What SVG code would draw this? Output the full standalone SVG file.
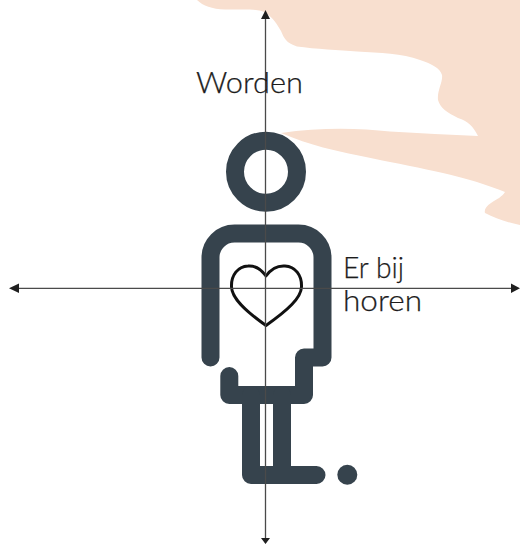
<svg xmlns="http://www.w3.org/2000/svg" width="520" height="544" viewBox="0 0 520 544">
<defs>
<style>
.fig{fill:none;stroke:#36434d;stroke-width:18;stroke-linecap:round;stroke-linejoin:round}
.ax{stroke:#4a4a4a;stroke-width:1.3;fill:none}
.head{fill:#1f1f1f}
text{font-family:"Lato","Liberation Sans",sans-serif;font-weight:300;font-size:30px;fill:#1c1c1c;stroke:#1c1c1c;stroke-width:.25}
</style>
</defs>
<path id="blob" fill="#f8dfcf" d="M197 0C203 6 212 9 225 9.500C240 10 258 8 266 13C273 18 277 24 281 31C284 38 286 43 297 46.500C315 49 340 50 357 51.500C380 53 402 53 420 60C432 64 440 68 442 75C443 82 437 90 438 100C440 108 448 113 458 118C468 121 473 126 478 136C450 135 420 133 390 131.500C360 128 320 127 281 133C295 139 310 144 323 147.500C345 153 370 158 390 162C415 167 440 172 457 176.500C475 181 490 186 505 192C502 197 497 199 491 203C486 206 484 210 485 213C495 218 505 222 520 225L520 0Z"/>
<g id="person">
<circle cx="266" cy="171.700" r="31" class="fig"/>
<path class="fig" d="M210.500 357.500V257.500A24 24 0 0 1 234.500 233.500H298.500A24 24 0 0 1 322.500 257.500V357.500H304V395H229.300V376"/>
<path class="fig" d="M251 395V475H316.500M282 395V475"/>
<circle cx="347.300" cy="474.700" r="10" fill="#36434d"/>
</g>
<g id="heart">
<path fill="none" stroke="#111" stroke-width="3" stroke-linejoin="round" d="M266 276C261 269 254 265.500 248 266C238 266.500 231 275 231.500 287C232 298 244 310 266 325.500C288 310 301 298 301.500 287C302 275 295 266.500 285 266C278 265.500 271 269 266 276Z"/>
</g>
<g id="axes">
<path class="ax" d="M265.500 16V540M16 288.300H514"/>
<path class="head" d="M265.500 10L270 19H261ZM265.500 544L261 538H270ZM9 288.300L19 283.500V293ZM520 288.300L511 283.500V293Z"/>
</g>
<g id="labels">
<text x="196" y="93" textLength="107" lengthAdjust="spacingAndGlyphs">Worden</text>
<text x="343" y="278" textLength="61" lengthAdjust="spacingAndGlyphs">Er bij</text>
<text x="343" y="311" textLength="79" lengthAdjust="spacingAndGlyphs">horen</text>
</g>
</svg>
